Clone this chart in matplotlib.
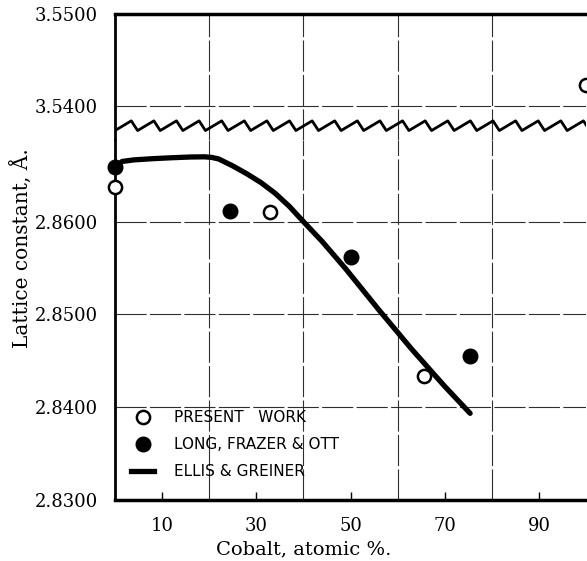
import numpy as np
import matplotlib
matplotlib.use("Agg")
import matplotlib.pyplot as plt
from matplotlib.lines import Line2D
import matplotlib.transforms as mtransforms

# ---------------- data ----------------
present_x = [0.0, 32.9, 65.5, 100.0]
present_y = [2.8637, 2.8610, 2.8434, 3.5423]

long_x = [0.0, 24.4, 50.2, 75.4]
long_y = [2.8659, 2.8611, 2.8562, 2.8455]

ellis_x = [0.0, 1.5, 4.0, 8.0, 12.0, 16.0, 19.0, 20.5, 22.0, 25.0, 28.0, 31.0,
           34.0, 37.0, 40.0, 44.0, 49.0, 56.0, 63.0, 70.0, 75.4]
ellis_y = [2.86585, 2.86648, 2.86665, 2.86678, 2.86688, 2.86696, 2.86698, 2.86692,
           2.86675, 2.86600, 2.86515, 2.86420, 2.86305, 2.86165, 2.86000, 2.85785,
           2.85490, 2.85050, 2.84625, 2.84225, 2.83934]

x_ticks = [10, 30, 50, 70, 90]
x_grid = [20, 40, 60, 80]
y_ticks_top = [3.54, 3.55]
y_ticks_bot = [2.83, 2.84, 2.85, 2.86]

legend_labels = ["PRESENT   WORK", "LONG, FRAZER & OTT", "ELLIS & GREINER"]

# ---------------- figure ----------------
W, H = 587, 561
fig = plt.figure(figsize=(W / 100, H / 100), dpi=100)

left_px, right_px = 115, 586
top_px, break_px, bottom_px = 14, 140, 500

def fr(x0, y_top, y_bot):
    return [x0 / W, (H - y_bot) / H, (right_px - left_px) / W, (y_bot - y_top) / H]

ax_top = fig.add_axes(fr(left_px, top_px, break_px))
ax_bot = fig.add_axes(fr(left_px, break_px, bottom_px))

serif = "DejaVu Serif"
grid_kw = dict(color="#2e2e2e", linewidth=0.8, linestyle=(0, (28, 3)))

for ax in (ax_top, ax_bot):
    ax.set_xlim(0, 100)
    ax.set_facecolor("white")
    ax.spines["right"].set_visible(False)
    ax.spines["left"].set_linewidth(2.0)
    ax.set_xticks(x_ticks)
    ax.set_xticks(x_grid, minor=True)
    ax.grid(True, which="minor", axis="x", **grid_kw)
    ax.grid(True, which="major", axis="y", **grid_kw)
    ax.tick_params(axis="y", length=0, pad=12.5, labelsize=13)
    ax.tick_params(axis="x", which="minor", length=0)

# top axes
ax_top.set_ylim(3.55 - (break_px - top_px) / 9200.0, 3.55)
ax_top.set_yticks(y_ticks_top)
ax_top.set_yticklabels(["%.4f" % v for v in y_ticks_top], family=serif)
ax_top.spines["bottom"].set_visible(False)
ax_top.spines["top"].set_linewidth(2.5)
ax_top.tick_params(axis="x", which="both", length=0, labelbottom=False)

# bottom axes
ax_bot.set_ylim(2.83, 2.83 + (bottom_px - break_px) / 9280.0)
ax_bot.set_yticks(y_ticks_bot)
ax_bot.set_yticklabels(["%.4f" % v for v in y_ticks_bot], family=serif)
ax_bot.spines["top"].set_visible(False)
ax_bot.spines["bottom"].set_linewidth(2.5)
ax_bot.tick_params(axis="x", which="major", direction="in", length=6, width=1.0,
                   pad=12, labelsize=13)
ax_bot.set_xticklabels([str(v) for v in x_ticks], family=serif)

# axis break zigzag (decoration)
P = 4.8
n = int(np.ceil(100 / P)) + 1
zx, zy = [], []
for k in range(n):
    zx += [k * P, k * P + 0.72 * P]
    zy += [0.075, 0.152]
zx = np.array(zx)
trans = mtransforms.blended_transform_factory(ax_top.transData, ax_top.transAxes)
ax_top.plot(zx, zy, color="black", lw=2.0, transform=trans, clip_on=True, zorder=5,
            solid_joinstyle="round")

# data
ax_bot.plot(ellis_x, ellis_y, color="black", lw=3.8, solid_capstyle="round",
            solid_joinstyle="round", zorder=6)
ax_bot.plot(long_x, long_y, "o", color="black", ms=10.5, clip_on=False, zorder=7)
ax_bot.plot(present_x[:3], present_y[:3], "o", mfc="white", mec="black", mew=1.8,
            ms=9.5, clip_on=False, zorder=7)
ax_top.plot(present_x[3:], present_y[3:], "o", mfc="white", mec="black", mew=1.8,
            ms=9.5, clip_on=False, zorder=7)

# legend
handles = [
    Line2D([], [], marker="o", ls="none", mfc="white", mec="black", mew=1.8, ms=9.5),
    Line2D([], [], marker="o", ls="none", color="black", ms=10.5),
    Line2D([], [], color="black", lw=3.8),
]
ax_bot.legend(handles, legend_labels, loc="lower left", bbox_to_anchor=(0.035, 0.058),
              frameon=False, prop={"family": "DejaVu Sans", "size": 11},
              handlelength=1.5, handletextpad=1.3, labelspacing=0.78,
              borderpad=0, borderaxespad=0)

# axis labels
fig.text(20.5 / W, 1 - 248 / H, "Lattice constant, Å.", rotation=90,
         ha="center", va="center", family=serif, fontsize=14.5)
fig.text(304 / W, 1 - 549 / H, "Cobalt, atomic %.", ha="center", va="center",
         family=serif, fontsize=14)

fig.savefig("out.png", dpi=100)
